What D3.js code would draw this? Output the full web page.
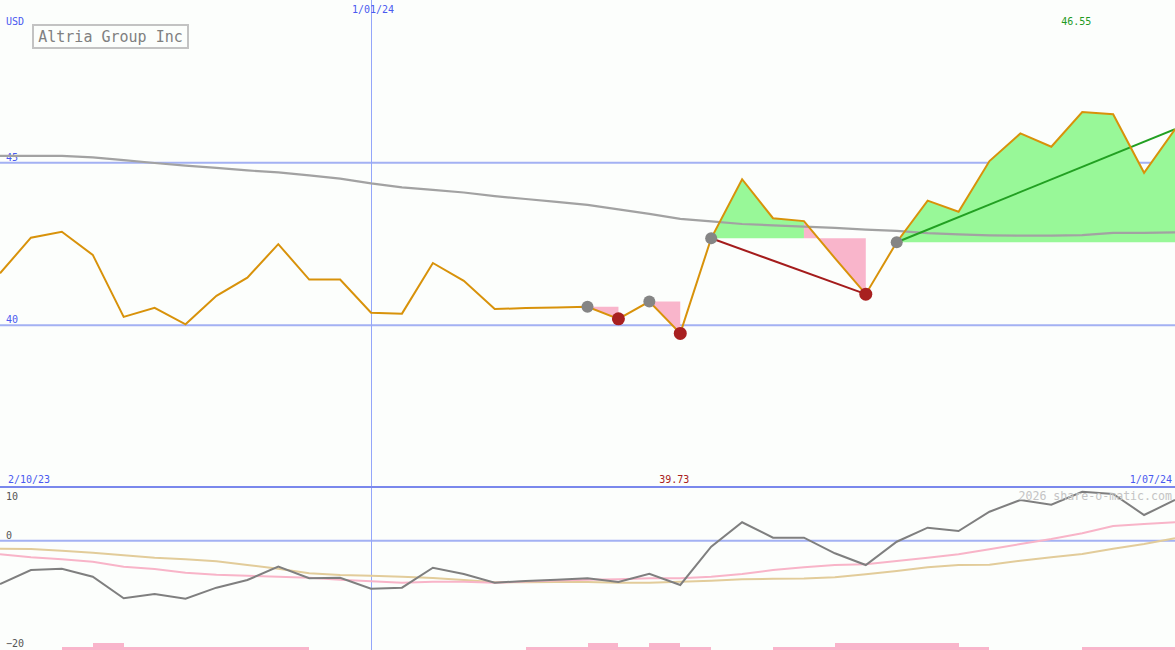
<!DOCTYPE html>
<html><head><meta charset="utf-8">
<script src="https://cdn.jsdelivr.net/npm/d3@7"></script>
<style>html,body{margin:0;padding:0;background:#fcfefc;overflow:hidden}svg{display:block}</style>
</head><body>
<script>
// ---------- data ----------
const weeks = ["2023-10-09","2023-10-16","2023-10-23","2023-10-30","2023-11-06","2023-11-13","2023-11-20","2023-11-27",
  "2023-12-04","2023-12-11","2023-12-18","2023-12-25","2024-01-01","2024-01-08","2024-01-15","2024-01-22","2024-01-29",
  "2024-02-05","2024-02-12","2024-02-19","2024-02-26","2024-03-04","2024-03-11","2024-03-18","2024-03-25",
  "2024-04-01","2024-04-08","2024-04-15","2024-04-22","2024-04-29","2024-05-06","2024-05-13","2024-05-20","2024-05-27",
  "2024-06-03","2024-06-10","2024-06-17","2024-06-24","2024-07-01"];
const periodStart = "2023-10-02";
const markerDate = "2024-01-01";
const close = [41.58,42.68,42.86,42.15,40.24,40.52,40.01,40.89,41.45,42.48,41.39,41.39,40.37,40.34,41.90,41.35,40.48,
  40.51,40.53,40.55,40.18,40.71,39.73,42.66,44.48,43.28,43.19,42.05,40.94,42.54,43.82,43.48,45.04,45.89,45.48,46.55,46.48,44.68,46.02];
const movingAvg = [45.20,45.20,45.20,45.15,45.07,44.98,44.90,44.83,44.75,44.69,44.60,44.50,44.35,44.23,44.15,44.07,43.96,
  43.87,43.78,43.69,43.55,43.41,43.26,43.18,43.10,43.06,43.02,42.98,42.93,42.89,42.82,42.78,42.75,42.74,42.74,42.76,42.83,42.83,42.84];
const oscDev = [-8.02,-5.43,-5.19,-6.67,-10.67,-9.87,-10.74,-8.70,-7.28,-4.81,-6.96,-6.85,-8.89,-8.70,-5.00,-6.17,-7.78,
  -7.46,-7.24,-6.96,-7.65,-6.11,-8.20,-1.11,3.41,0.56,0.56,-2.33,-4.50,-0.19,2.41,1.80,5.37,7.54,6.67,9.07,8.65,4.76,7.54];
const oscFast = [-2.52,-3.07,-3.44,-3.89,-4.81,-5.24,-5.93,-6.30,-6.48,-6.67,-6.85,-7.22,-7.52,-7.78,-7.59,-7.59,-7.78,
  -7.56,-7.37,-7.24,-7.15,-6.96,-6.96,-6.67,-6.17,-5.43,-4.93,-4.50,-4.37,-3.76,-3.15,-2.52,-1.59,-0.61,0.31,1.37,2.72,3.09,3.41];
const oscSlow = [-1.48,-1.54,-1.85,-2.22,-2.70,-3.15,-3.44,-3.81,-4.50,-5.19,-6.04,-6.35,-6.48,-6.67,-6.91,-7.28,-7.70,
  -7.70,-7.65,-7.65,-7.78,-7.78,-7.59,-7.41,-7.15,-7.04,-7.00,-6.78,-6.22,-5.61,-4.93,-4.50,-4.44,-3.70,-3.07,-2.46,-1.48,-0.61,0.44];
const barLevel = [0,0,1,2,1,1,1,1,1,1,0,0,0,0,0,0,0,1,1,2,1,2,1,0,0,1,1,2,2,2,2,1,0,0,0,1,1,1];
const priceTicks = [40,45];
const oscTicks = [10,0,-20];
// fills: [fromIdx, toIdx, levelIdx, kind]
const fillSpans = [[19,20,19,"down"],[21,22,21,"down"],[23,26,23,"up"],[26,28,23,"down"],[29,38,29,"up"]];
const upMarkers = [19,21,23,29];
const downMarkers = [20,22,28];
const trendLines = [[23,28,"down"],[29,38,"up"]];
const title = "Altria Group Inc";
const currency = "USD";
const credit = "2026 share-o-matic.com";

// ---------- layout ----------
const W = 1175, H = 650;
const C = {bg:"#fcfefc", grid:"#a3b1f3", divider:"#7a88ec", vline:"#94a6fa", axisText:"#4a5af0",
  price:"#d8920a", ma:"#a2a2a2", up:"#98f898", down:"#f9b5cb", upLine:"#22a022", downLine:"#a41c1c",
  marker:"#858585", red:"#a82020", osc:"#7f7f7f", fast:"#f8b4c8", slow:"#e2cc9a", oscText:"#555"};

const svg = d3.select("body").append("svg").attr("width", W).attr("height", H)
  .style("font-family", "'DejaVu Sans Mono', monospace");
svg.append("rect").attr("width", W).attr("height", H).attr("fill", C.bg);

const parse = d3.timeParse("%Y-%m-%d");
const fmtDate = d3.timeFormat("%-d/%m/%y");
const x = d3.scalePoint().domain(weeks).range([0, W]);
const xi = i => x(weeks[i]);
const y = d3.scaleLinear().domain([35, 50]).range([487, 0]);
const yo = d3.scaleLinear().domain([-20, 10]).range([648.7, 486.7]);
const yb = d3.scaleLinear().domain([0, 2]).range([650, 643.3]);

// price gridlines via axis
const pAxis = svg.append("g").call(d3.axisRight(y).tickValues(priceTicks).tickSize(W).tickFormat(d3.format("d")));
pAxis.select(".domain").remove();
pAxis.selectAll("line").attr("stroke", C.grid).attr("stroke-width", 2);
pAxis.selectAll("text").attr("x", 6).attr("dy", 0).attr("y", -2).attr("text-anchor", "start")
  .attr("fill", C.axisText).style("font-size", "10px").style("font-family", "'DejaVu Sans Mono', monospace");

// osc zero line
svg.append("line").attr("x1", 0).attr("x2", W).attr("y1", yo(0)).attr("y2", yo(0))
  .attr("stroke", C.grid).attr("stroke-width", 2);
// osc labels via axis
const oAxis = svg.append("g").call(d3.axisRight(yo).tickValues(oscTicks).tickSize(0).tickFormat(d3.format("d")));
oAxis.select(".domain").remove();
oAxis.selectAll("text").attr("x", 6).attr("dy", 0).attr("y", d => d === 10 ? 13.3 : -2.6).attr("text-anchor", "start")
  .attr("fill", C.oscText).style("font-size", "10px").style("font-family", "'DejaVu Sans Mono', monospace");

// vertical date marker
svg.append("rect").attr("x", Math.round(x(markerDate))).attr("y", 0).attr("width", 1).attr("height", H)
  .attr("fill", C.vline).attr("shape-rendering", "crispEdges");

// fills
fillSpans.forEach(([a, b, l, kind]) => {
  const idx = d3.range(a, b + 1);
  const area = d3.area().x(i => xi(i)).y0(y(close[l])).y1(i => y(close[i]));
  svg.append("path").datum(idx).attr("d", area).attr("fill", kind === "up" ? C.up : C.down);
});

// moving average
const line = d3.line().x((d, i) => xi(i)).y(d => y(d));
svg.append("path").datum(movingAvg).attr("d", line).attr("fill", "none").attr("stroke", C.ma).attr("stroke-width", 2.2);

// trend lines
trendLines.forEach(([a, b, kind]) => {
  svg.append("line").attr("x1", xi(a)).attr("y1", y(close[a])).attr("x2", xi(b)).attr("y2", y(close[b]))
    .attr("stroke", kind === "up" ? C.upLine : C.downLine).attr("stroke-width", 2);
});

// price
svg.append("path").datum(close).attr("d", line).attr("fill", "none").attr("stroke", C.price).attr("stroke-width", 2);

// markers
svg.selectAll("circle.up").data(upMarkers).enter().append("circle")
  .attr("cx", i => xi(i)).attr("cy", i => y(close[i])).attr("r", 6).attr("fill", C.marker);
svg.selectAll("circle.dn").data(downMarkers).enter().append("circle")
  .attr("cx", i => xi(i)).attr("cy", i => y(close[i])).attr("r", 6.5).attr("fill", C.red);

// divider
svg.append("line").attr("x1", 0).attr("x2", W).attr("y1", 487).attr("y2", 487)
  .attr("stroke", C.divider).attr("stroke-width", 2);

// oscillator lines
const oline = d3.line().x((d, i) => xi(i)).y(d => yo(d));
svg.append("path").datum(oscSlow).attr("d", oline).attr("fill", "none").attr("stroke", C.slow).attr("stroke-width", 2);
svg.append("path").datum(oscFast).attr("d", oline).attr("fill", "none").attr("stroke", C.fast).attr("stroke-width", 2);
svg.append("path").datum(oscDev).attr("d", oline).attr("fill", "none").attr("stroke", C.osc).attr("stroke-width", 2);

// bars
svg.selectAll("rect.bar").data(barLevel.map((v, i) => ({v, i})).filter(d => d.v > 0)).enter().append("rect")
  .attr("x", d => Math.round(xi(d.i))).attr("width", d => Math.round(xi(d.i + 1)) - Math.round(xi(d.i)))
  .attr("y", d => Math.round(yb(d.v))).attr("height", d => 650 - Math.round(yb(d.v)))
  .attr("fill", C.down).attr("shape-rendering", "crispEdges");

// texts
const txt = (s, tx, ty, fill, size, anchor) => svg.append("text").text(s).attr("x", tx).attr("y", ty)
  .attr("fill", fill).attr("text-anchor", anchor || "start").style("font-size", size + "px");
txt(currency, 6, 25, C.axisText, 10);
svg.append("rect").attr("x", 33).attr("y", 25).attr("width", 155).attr("height", 23)
  .attr("fill", "none").attr("stroke", "#c3c3c3").attr("stroke-width", 2);
txt(title, 110.5, 42, "#808080", 15, "middle");
txt(fmtDate(parse(markerDate)), x(markerDate) + 2, 12.5, C.axisText, 10, "middle");
const maxI = d3.maxIndex(close), minI = d3.minIndex(close);
txt(d3.format(".2f")(close[maxI]), xi(maxI) - 6, 25, "#1f9a1f", 10, "middle");
txt(d3.format(".2f")(close[minI]), xi(minI) - 6, 482.5, C.red, 10, "middle");
txt(fmtDate(parse(periodStart)), 8, 482.5, C.axisText, 10);
txt(fmtDate(parse(weeks[weeks.length - 1])), 1172, 482.5, C.axisText, 10, "end");
txt(credit, 1172, 500, "#c4c4c4", 11.6, "end");
</script>
</body></html>
